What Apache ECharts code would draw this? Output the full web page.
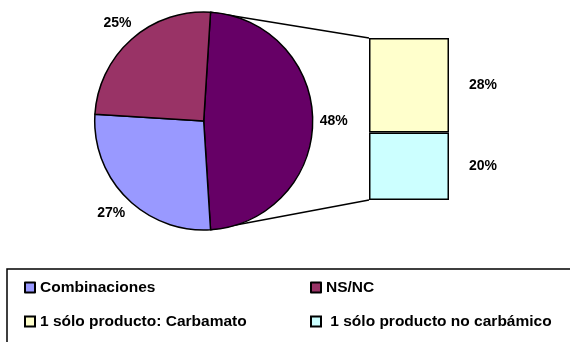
<!DOCTYPE html>
<html>
<head>
<meta charset="utf-8">
<script src="https://cdn.jsdelivr.net/npm/echarts@6/dist/echarts.min.js"></script>
<style>
  html, body { margin: 0; padding: 0; background: #ffffff; }
  #chart { width: 570px; height: 342px; }
</style>
</head>
<body>
<div id="chart"></div>
<script>
// Pie slices, clockwise from the slice that is broken out into the bar
const pieNames = ['Otros', 'Combinaciones', 'NS/NC'];
const pieValues = [48, 27, 25];
const pieColors = ['#660066', '#9999FF', '#993366'];

// Breakdown of the broken-out slice, bottom segment first
const barNames = ['1 sólo producto no carbámico', '1 sólo producto: Carbamato'];
const barValues = [20, 28];
const barColors = ['#CCFFFF', '#FFFFCC'];

// Legend entries in reading order
const legendOrder = ['Combinaciones', 'NS/NC', '1 sólo producto: Carbamato', '1 sólo producto no carbámico'];

// Layout settings
const FONT = "'Liberation Sans', Arial, Helvetica, sans-serif";
const PIE_CX = 203.7, PIE_CY = 121, PIE_R = 109;
const BAR_LEFT = 369, BAR_TOP = 38, BAR_W = 80, BAR_H = 162;
const LABEL_GAP = 7;

const pieTotal = pieValues.reduce((a, b) => a + b, 0);
const barTotal = barValues.reduce((a, b) => a + b, 0);
// Centre the broken-out slice on the 3 o'clock direction
const startAngle = pieValues[0] / pieTotal * 360 / 2;

// Screen-space mid angle (degrees, clockwise from east) of slice i
function midAngle(i) {
  let cum = 0;
  for (let k = 0; k < i; k++) cum += pieValues[k];
  return -startAngle + (cum + pieValues[i] / 2) / pieTotal * 360;
}

const chart = echarts.init(document.getElementById('chart'), null, { renderer: 'canvas' });

const valueLabel = {
  show: true,
  formatter: '{c}%',
  color: '#000000',
  fontFamily: FONT,
  fontSize: 14,
  fontWeight: 'bold'
};

const pieSeries = {
  type: 'pie',
  center: [PIE_CX, PIE_CY],
  radius: PIE_R,
  startAngle: startAngle,
  clockwise: true,
  animation: false,
  silent: true,
  data: pieNames.map((n, i) => ({ name: n, value: pieValues[i], itemStyle: { color: pieColors[i] } })),
  itemStyle: { borderColor: '#000000', borderWidth: 1.5 },
  label: Object.assign({ position: 'outside' }, valueLabel),
  labelLine: { show: false },
  // Place each label just outside the rim along its slice's mid angle
  labelLayout: function (p) {
    const a = midAngle(p.dataIndex) * Math.PI / 180;
    const ux = Math.cos(a), uy = Math.sin(a);
    const w = p.labelRect.width, h = p.labelRect.height;
    const d = PIE_R + LABEL_GAP + Math.abs(ux) * w / 2 + Math.abs(uy) * h / 2;
    return { x: PIE_CX + ux * d, y: PIE_CY + uy * d, align: 'center', verticalAlign: 'middle' };
  }
};

const barSeries = barNames.map((n, i) => ({
  type: 'bar',
  name: n,
  stack: 'split',
  xAxisIndex: 0,
  yAxisIndex: 0,
  barWidth: '100%',
  animation: false,
  silent: true,
  data: [barValues[i]],
  itemStyle: { color: barColors[i], borderColor: '#000000', borderWidth: 1.5 },
  label: Object.assign({ position: 'right', distance: 20 }, valueLabel)
}));

chart.setOption({
  animation: false,
  backgroundColor: '#ffffff',
  grid: { left: BAR_LEFT, top: BAR_TOP, width: BAR_W, height: BAR_H, containLabel: false },
  xAxis: { type: 'category', data: [''], show: false },
  yAxis: { type: 'value', min: 0, max: barTotal, show: false },
  legend: {
    data: legendOrder,
    left: 7,
    top: 269,
    width: 600,
    orient: 'horizontal',
    padding: [10, 0, 22, 17],
    itemGap: 17,
    itemWidth: 10,
    itemHeight: 10,
    icon: 'rect',
    selectedMode: false,
    borderColor: '#000000',
    borderWidth: 1.5,
    itemStyle: { borderColor: '#000000', borderWidth: 2 },
    // the last entry is set off by an extra space after its key
    formatter: function (name) { return name === legendOrder[3] ? ' ' + name : name; },
    textStyle: {
      color: '#000000',
      fontFamily: FONT,
      fontSize: 15.5,
      fontWeight: 'bold',
      width: 253,
      lineHeight: 17
    }
  },
  series: [pieSeries].concat(barSeries)
});

// Connector lines from the broken-out slice's edges to the bar's left corners
const a0 = -startAngle * Math.PI / 180;
const a1 = startAngle * Math.PI / 180;
const barCenterX = chart.convertToPixel({ xAxisIndex: 0 }, 0);
const barLeftX = barCenterX - BAR_W / 2;
const barTopY = chart.convertToPixel({ yAxisIndex: 0 }, barTotal);
const barBottomY = chart.convertToPixel({ yAxisIndex: 0 }, 0);

chart.setOption({
  graphic: [
    {
      type: 'line', silent: true, z: 1,
      shape: { x1: PIE_CX + PIE_R * Math.cos(a0), y1: PIE_CY + PIE_R * Math.sin(a0), x2: barLeftX, y2: barTopY },
      style: { stroke: '#000000', lineWidth: 1.5 }
    },
    {
      type: 'line', silent: true, z: 1,
      shape: { x1: PIE_CX + PIE_R * Math.cos(a1), y1: PIE_CY + PIE_R * Math.sin(a1), x2: barLeftX, y2: barBottomY },
      style: { stroke: '#000000', lineWidth: 1.5 }
    }
  ]
});
</script>
</body>
</html>
